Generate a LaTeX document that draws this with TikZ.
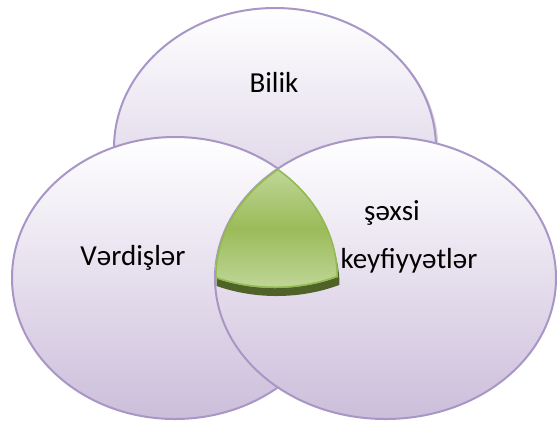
\documentclass[tikz,border=0pt]{standalone}
\usepackage{fontspec}
\setmainfont{Carlito}
\usetikzlibrary{shapes.geometric}
\definecolor{lavB}{RGB}{168,150,198}
\definecolor{lavF}{RGB}{204,190,219}
\definecolor{grnL}{RGB}{194,216,156}
\definecolor{grnM}{RGB}{155,187,89}
\definecolor{grnE}{RGB}{146,186,80}
\definecolor{grnD}{RGB}{79,98,40}
\begin{document}
\begin{tikzpicture}[x=1bp,y=-1bp,
  venn/.style={ellipse, draw=lavB, line width=2bp, top color=white, bottom color=lavF, inner sep=0pt},
  lbl/.style={font=\fontsize{29bp}{34bp}\selectfont, anchor=base, inner sep=0pt, text=black}]
\useasboundingbox (0,0) rectangle (557,422);
% shadow of top ellipse
\fill[black,opacity=0.15] (277.5,149.5) ellipse [x radius=161bp, y radius=140bp];
\node[venn, minimum width=322bp, minimum height=280bp] (bilik) at (275,148) {};
\node[venn, minimum width=326bp, minimum height=282bp] (vard) at (175,278) {};
\node[venn, minimum width=341bp, minimum height=282bp] (sexsi) at (385.5,278) {};
% green shadow
\begin{scope}[shift={(1.5,8)}]
  \clip (175,278) ellipse [x radius=163bp, y radius=141bp];
  \clip (385.5,278) ellipse [x radius=170.5bp, y radius=141bp];
  \clip (275,148) ellipse [x radius=161bp, y radius=140bp];
  \fill[grnD] (200,150) rectangle (360,310);
\end{scope}
% green centre
\begin{scope}
  \clip (175,278) ellipse [x radius=163bp, y radius=141bp];
  \clip (385.5,278) ellipse [x radius=170.5bp, y radius=141bp];
  \clip (275,148) ellipse [x radius=161bp, y radius=140bp];
  \shade[top color=grnL, bottom color=grnL, middle color=grnM] (205,165) rectangle (345,292);
  \draw[grnE, line width=3bp] (175,278) ellipse [x radius=163bp, y radius=141bp];
  \draw[grnE, line width=3bp] (385.5,278) ellipse [x radius=170.5bp, y radius=141bp];
  \draw[grnE, line width=3bp] (275,148) ellipse [x radius=161bp, y radius=140bp];
\end{scope}
\node[lbl] (t1) at (274,92) {Bilik};
\node[lbl] (t2) at (133,265) {Vərdişlər};
\node[lbl] (t3) at (392,220) {şəxsi};
\node[lbl] (t4) at (409,268) {keyfiyyətlər};
\end{tikzpicture}
\end{document}
